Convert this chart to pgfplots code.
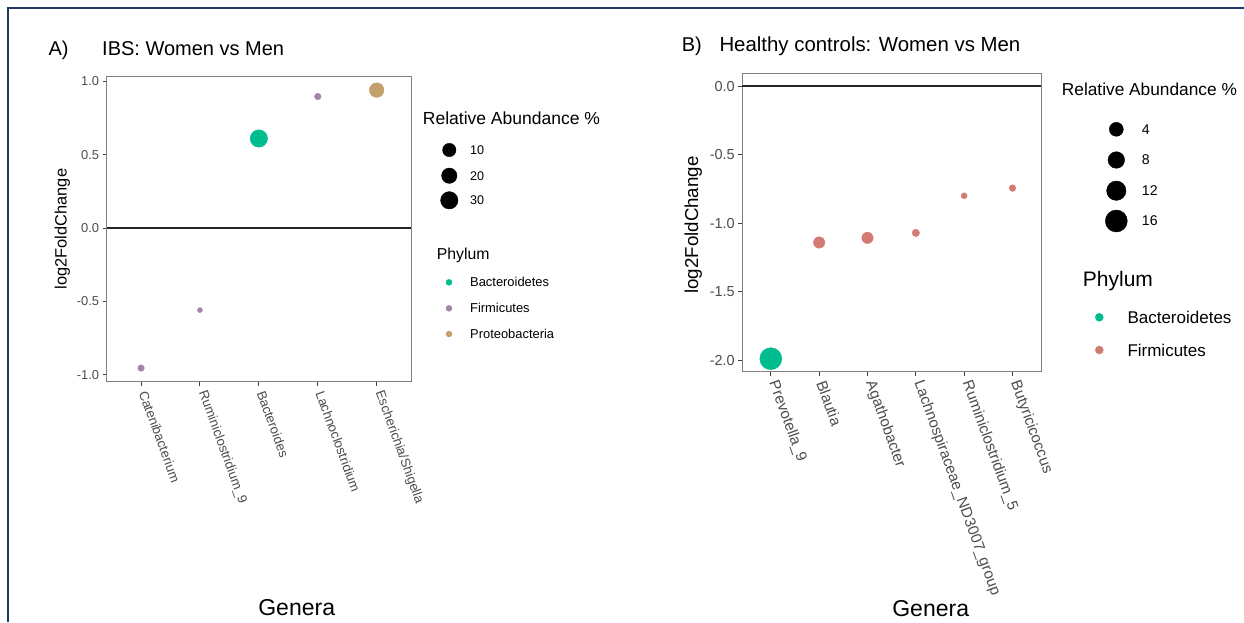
\documentclass[border=0pt]{standalone}
\usepackage{fontspec}
\setmainfont{Liberation Sans}
\usepackage{pgfplots}
\pgfplotsset{compat=1.18}
\definecolor{tealc}{HTML}{00BD90}
\definecolor{firmA}{HTML}{A385AA}
\definecolor{proA}{HTML}{C4A06C}
\definecolor{firmB}{HTML}{D27A73}
\definecolor{navyb}{HTML}{203864}
\definecolor{framec}{HTML}{808080}
\definecolor{tickc}{HTML}{4D4D4D}
\newcommand{\fs}[1]{\fontsize{#1pt}{#1pt}\selectfont}
\pgfplotsset{
  panel/.style={scale only axis, anchor=south west, clip=false,
    axis line style={framec, line width=0.9pt},
    tick align=outside, major tick length=4pt, tick pos=left,
    tick style={color=black!75, line width=0.9pt},
    xticklabel style={rotate=-70, anchor=west, text=tickc, inner xsep=6pt, inner ysep=0pt},
    yticklabel style={text=tickc},
  },
  bub/.style={scatter, only marks, mark=*,
    scatter/use mapped color={draw=#1, fill=#1},
    visualization depends on={\thisrow{r}\as\rad},
    scatter/@pre marker code/.append style={/tikz/mark size=\rad}},
}
\begin{document}
\begin{tikzpicture}
\path[use as bounding box, fill=white] (0pt,0pt) rectangle (1244pt,622pt);
\draw[navyb, line width=1.5pt] (8pt,0pt) -- (8pt,614pt) -- (1244pt,614pt);

% Panel A
\begin{axis}[panel, at={(106.7pt,240.3pt)}, width=304.3pt, height=305.7pt,
  xmin=0.417, xmax=5.583, ymin=-1.047, ymax=1.037,
  xtick={1,2,3,4,5},
  xticklabels={Catenibacterium,Ruminiclostridium\_9,Bacteroides,Lachnoclostridium,Escherichia/Shigella},
  ytick={-1,-0.5,0,0.5,1}, yticklabels={-1.0,-0.5,0.0,0.5,1.0},
  xticklabel style={font=\fs{13.2}}, yticklabel style={font=\fs{12.9}}]
\addplot[black!85, line width=1.3pt] coordinates {(0.417,0) (5.583,0)};
\addplot[bub=firmA] table[x=x,y=y] {
x y r
1 -0.954 3.3
2 -0.559 2.5
4 0.897 3.3
};
\addplot[bub=tealc] table[x=x,y=y] {
x y r
3 0.611 8.7
};
\addplot[bub=proA] table[x=x,y=y] {
x y r
5 0.941 7.3
};
\end{axis}

% Panel B
\begin{axis}[panel, at={(742.3pt,250.3pt)}, width=298.7pt, height=298.4pt,
  xmin=0.41, xmax=6.59, ymin=-2.085, ymax=0.093,
  xtick={1,2,3,4,5,6},
  xticklabels={Prevotella\_9,Blautia,Agathobacter,Lachnospiraceae\_ND3007\_group,Ruminiclostridium\_5,Butyricicoccus},
  ytick={-2,-1.5,-1,-0.5,0}, yticklabels={-2.0,-1.5,-1.0,-0.5,0.0},
  xticklabel style={font=\fs{15.2}}, yticklabel style={font=\fs{14.5}}]
\addplot[black!85, line width=1.3pt] coordinates {(0.41,0) (6.59,0)};
\addplot[bub=tealc] table[x=x,y=y] {
x y r
1 -1.990 11
};
\addplot[bub=firmB] table[x=x,y=y] {
x y r
2 -1.142 5.7
3 -1.108 5.7
4 -1.072 3.7
5 -0.801 3.0
6 -0.745 3.3
};
\end{axis}

% Overlay: legends and text, in pixel coordinates
\begin{axis}[hide axis, scale only axis, at={(0pt,0pt)}, anchor=south west,
  width=1244pt, height=622pt, xmin=0, xmax=1244, ymin=0, ymax=622,
  y dir=reverse, clip=false]
\addplot[bub=black] table[x=x,y=y] {
x y r
449.3 150.0 6.7
449.3 175.7 7.7
449.3 200.3 8.7
1116.3 129.3 7.0
1116.3 160.0 8.3
1116.3 190.7 9.7
1116.3 221.0 11.0
};
\addplot[only marks, mark=*, tealc, mark size=3] coordinates {(449,282.3)};
\addplot[only marks, mark=*, firmA, mark size=3] coordinates {(449,308.3)};
\addplot[only marks, mark=*, proA, mark size=3] coordinates {(449,334)};
\addplot[only marks, mark=*, tealc, mark size=4] coordinates {(1099.3,317.3)};
\addplot[only marks, mark=*, firmB, mark size=4] coordinates {(1099.3,350)};

\begin{scope}[every node/.style={inner sep=0pt}]
\node[anchor=base west, font=\fs{20}] at (axis cs:48.3,55) {A)};
\node[anchor=base west, font=\fs{20}] at (axis cs:102,55) {IBS: Women vs Men};
\node[anchor=base west, font=\fs{20}] at (axis cs:681.7,51.5) {B)};
\node[anchor=base west, font=\fs{20.4}] at (axis cs:719.3,51.5) {Healthy controls: Women vs Men};

\node[rotate=90, font=\fs{16.4}] at (axis cs:62.5,229) {log2FoldChange};
\node[rotate=90, font=\fs{18.7}] at (axis cs:693.3,225) {log2FoldChange};

\node[anchor=base, font=\fs{23}] at (axis cs:296.7,615) {Genera};
\node[anchor=base, font=\fs{23}] at (axis cs:930.7,616.5) {Genera};

\node[anchor=base west, font=\fs{17.5}] at (axis cs:422.7,124) {Relative Abundance \%};
\node[anchor=west, font=\fs{12.6}] at (axis cs:470,150) {10};
\node[anchor=west, font=\fs{12.6}] at (axis cs:470,175.7) {20};
\node[anchor=west, font=\fs{12.6}] at (axis cs:470,200.3) {30};
\node[anchor=base west, font=\fs{15.8}] at (axis cs:436.7,259.3) {Phylum};
\node[anchor=west, font=\fs{12.9}] at (axis cs:470,282.3) {Bacteroidetes};
\node[anchor=west, font=\fs{12.9}] at (axis cs:470,308.3) {Firmicutes};
\node[anchor=west, font=\fs{12.9}] at (axis cs:470,334) {Proteobacteria};

\node[anchor=base west, font=\fs{17.3}] at (axis cs:1061.7,95) {Relative Abundance \%};
\node[anchor=west, font=\fs{14.1}] at (axis cs:1141.7,129.3) {4};
\node[anchor=west, font=\fs{14.1}] at (axis cs:1141.7,160) {8};
\node[anchor=west, font=\fs{14.1}] at (axis cs:1141.7,190.7) {12};
\node[anchor=west, font=\fs{14.1}] at (axis cs:1141.7,221) {16};
\node[anchor=base west, font=\fs{21}] at (axis cs:1082.7,286) {Phylum};
\node[anchor=west, font=\fs{17}] at (axis cs:1127.3,317.3) {Bacteroidetes};
\node[anchor=west, font=\fs{17}] at (axis cs:1127.3,350) {Firmicutes};
\end{scope}
\end{axis}
\end{tikzpicture}
\end{document}
